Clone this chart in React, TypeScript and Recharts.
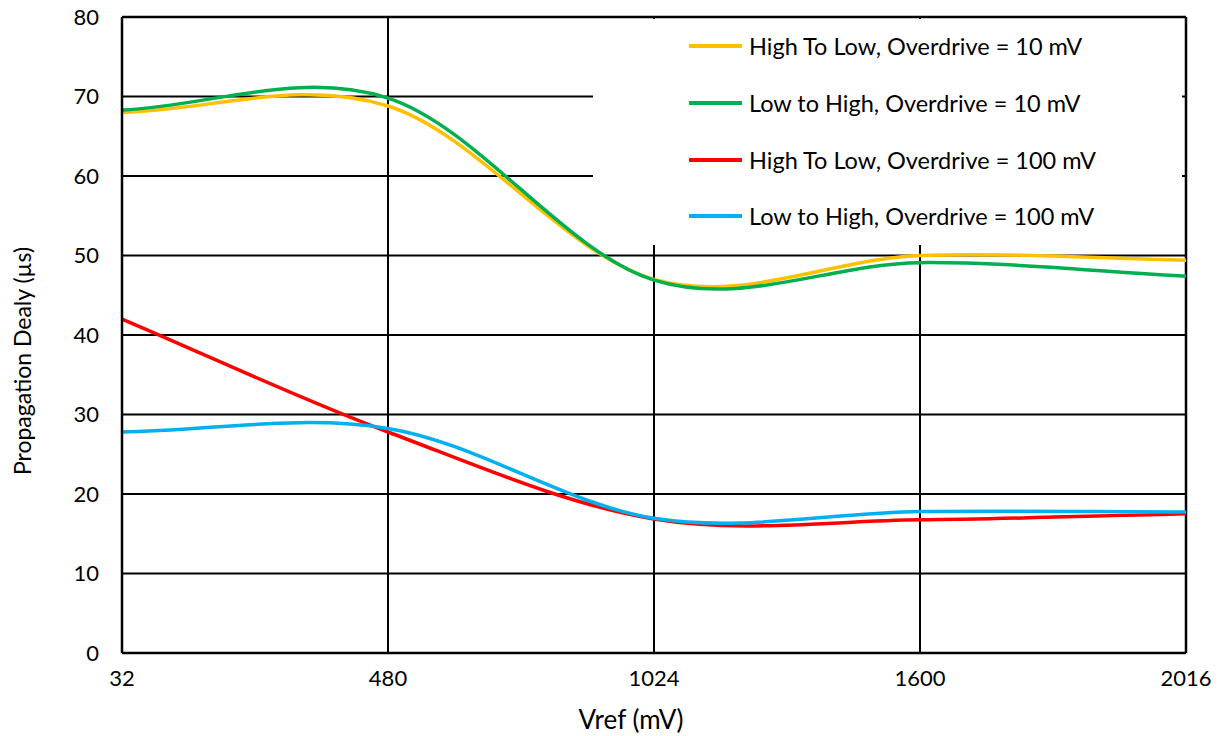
import { LineChart, Line, XAxis, YAxis, CartesianGrid, Legend, ReferenceLine } from "recharts";

const FONT = "Lato, 'Open Sans', sans-serif";

const VREF = ["32", "480", "1024", "1600", "2016"];
const Y_TICKS = [0, 10, 20, 30, 40, 50, 60, 70, 80];

const HL_10 = [68.0, 68.8, 47.0, 50.0, 49.4];
const LH_10 = [68.3, 69.8, 46.9, 49.1, 47.4];
const HL_100 = [42.0, 27.8, 16.85, 16.75, 17.5];
const LH_100 = [27.8, 28.25, 16.95, 17.8, 17.75];

const SERIES = [
  { key: "hl10", name: "High To Low, Overdrive = 10 mV", color: "#FFC000", values: HL_10 },
  { key: "lh10", name: "Low to High, Overdrive = 10 mV", color: "#00B050", values: LH_10 },
  { key: "hl100", name: "High To Low, Overdrive = 100 mV", color: "#FF0000", values: HL_100 },
  { key: "lh100", name: "Low to High, Overdrive = 100 mV", color: "#00B0F0", values: LH_100 },
];

const data = VREF.map((v, i) => {
  const row: Record<string, string | number> = { vref: v };
  SERIES.forEach((s) => (row[s.key] = s.values[i]));
  return row;
});

// Excel-style smoothed line: Catmull-Rom bezier, reflected end points
function excelSmooth(context: any) {
  let xs: number[] = [];
  let ys: number[] = [];
  return {
    areaStart() {},
    areaEnd() {},
    lineStart() {
      xs = [];
      ys = [];
    },
    point(x: number, y: number) {
      xs.push(+x);
      ys.push(+y);
    },
    lineEnd() {
      const n = xs.length;
      if (!n) return;
      context.moveTo(xs[0], ys[0]);
      if (n === 1) return;
      const px = (i: number) =>
        i < 0 ? 2 * xs[0] - xs[1] : i >= n ? 2 * xs[n - 1] - xs[n - 2] : xs[i];
      const py = (i: number) =>
        i < 0 ? 2 * ys[0] - ys[1] : i >= n ? 2 * ys[n - 1] - ys[n - 2] : ys[i];
      for (let i = 0; i < n - 1; i++) {
        context.bezierCurveTo(
          xs[i] + (px(i + 1) - px(i - 1)) / 6,
          ys[i] + (py(i + 1) - py(i - 1)) / 6,
          xs[i + 1] - (px(i + 2) - px(i)) / 6,
          ys[i + 1] - (py(i + 2) - py(i)) / 6,
          xs[i + 1],
          ys[i + 1],
        );
      }
    },
  };
}

const ROW_CENTERS = [27, 84, 141, 197];

const renderLegend = () => (
  <div style={{ position: "relative", width: 589, height: 226, fontFamily: FONT, fontSize: 23.5, color: "#000" }}>
    {SERIES.map((s, i) => (
      <div
        key={s.key}
        style={{
          position: "absolute",
          left: 96,
          top: ROW_CENTERS[i] - 16,
          height: 32,
          display: "flex",
          alignItems: "center",
          whiteSpace: "nowrap",
        }}
      >
        <span style={{ display: "inline-block", width: 53, height: 4, background: s.color, marginRight: 7 }} />
        <span>{s.name}</span>
      </div>
    ))}
  </div>
);

const TICK = { fill: "#000", fontSize: 22, fontFamily: FONT };

export default function App() {
  return (
    <div style={{ position: "absolute", left: 0, top: 0, width: 1220, height: 736, background: "#fff" }}>
      <LineChart width={1220} height={736} data={data} margin={{ top: 17, right: 34, left: 0, bottom: 33 }}>
        <CartesianGrid stroke="#000" strokeWidth={2} />
        <XAxis
          dataKey="vref"
          height={50}
          tick={TICK}
          tickLine={false}
          tickMargin={11}
          axisLine={{ stroke: "#000", strokeWidth: 2.5 }}
          label={{
            content: () => (
              <text x={631} y={729} textAnchor="middle" fontFamily={FONT} fontSize={26} fill="#000">
                Vref (mV)
              </text>
            ),
          }}
        />
        <YAxis
          domain={[0, 80]}
          ticks={Y_TICKS}
          width={122}
          tick={TICK}
          tickLine={false}
          tickMargin={17}
          axisLine={{ stroke: "#000", strokeWidth: 2.5 }}
          label={{
            content: () => (
              <text
                x={22}
                y={361}
                transform="rotate(-90 22 361)"
                textAnchor="middle"
                dominantBaseline="central"
                fontFamily={FONT}
                fontSize={23}
                fill="#000"
              >
                Propagation Dealy (µs)
              </text>
            ),
          }}
        />
        <ReferenceLine y={80} stroke="#000" strokeWidth={2.5} />
        <ReferenceLine x="2016" stroke="#000" strokeWidth={2.5} />
        {SERIES.map((s) => (
          <Line
            key={s.key}
            dataKey={s.key}
            name={s.name}
            type={excelSmooth as any}
            stroke={s.color}
            strokeWidth={3.5}
            dot={false}
            activeDot={false}
            isAnimationActive={false}
          />
        ))}
        <Legend
          layout="vertical"
          align="center"
          verticalAlign="middle"
          content={renderLegend}
          wrapperStyle={{ left: 593, top: 19, width: 589, height: 226, background: "#fff" }}
        />
      </LineChart>
    </div>
  );
}
